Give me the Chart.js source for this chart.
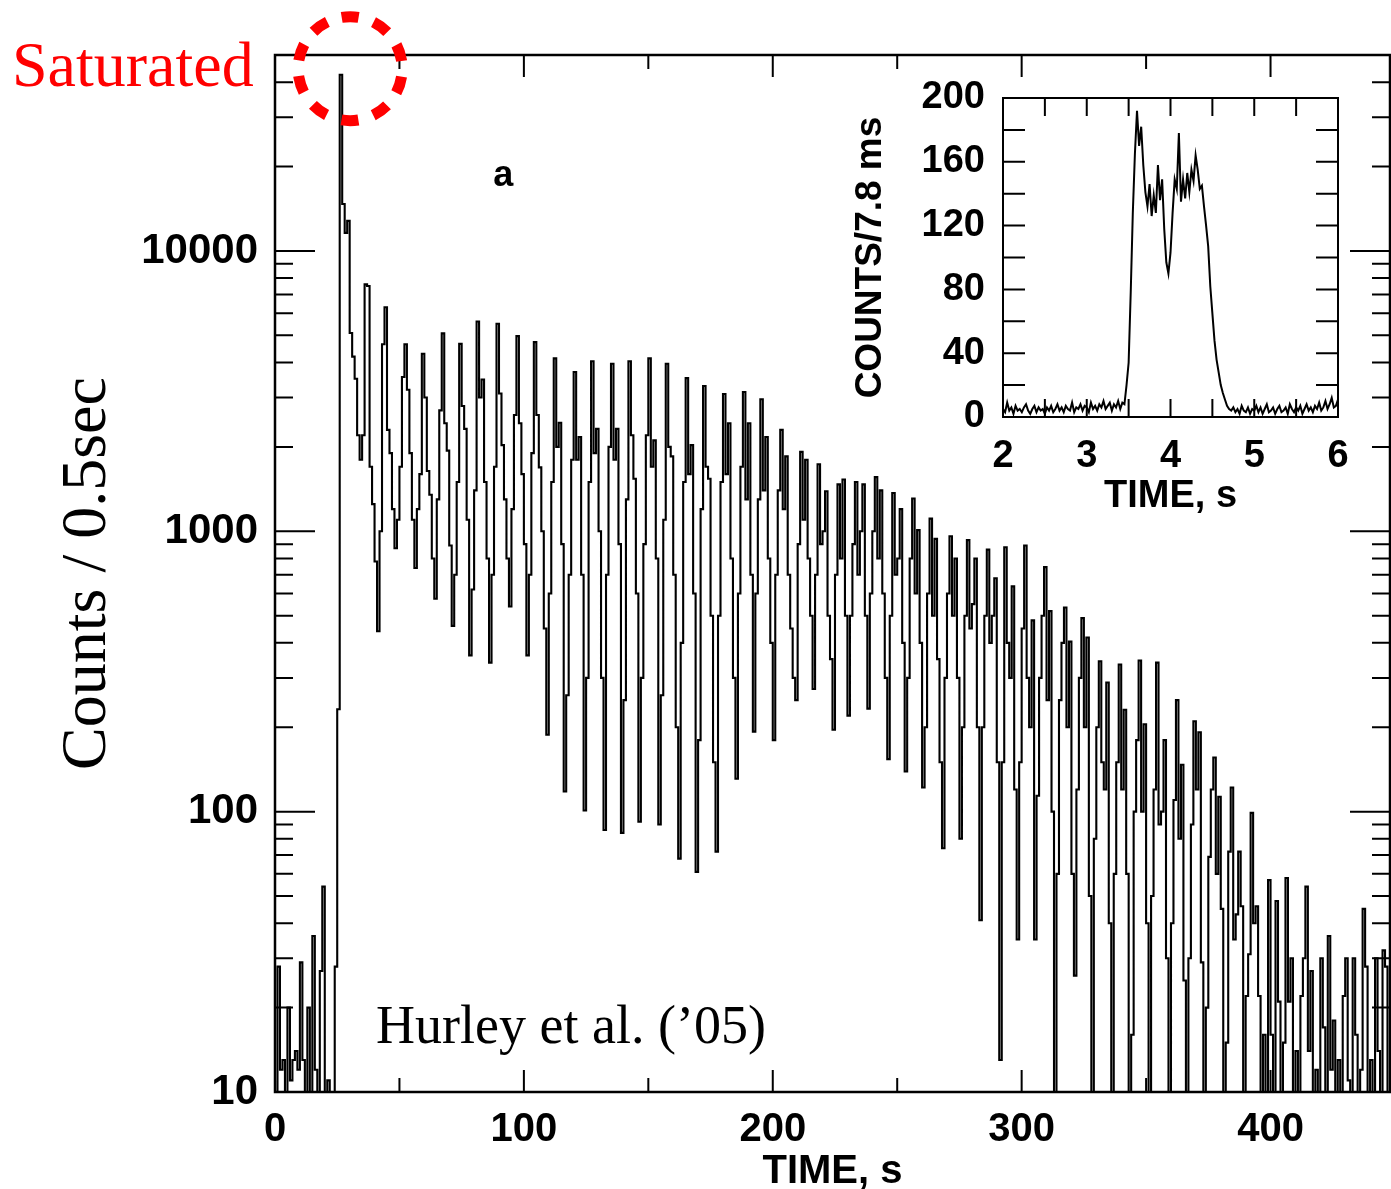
<!DOCTYPE html>
<html>
<head>
<meta charset="utf-8">
<script src="https://cdn.jsdelivr.net/npm/chart.js@4.4.1/dist/chart.umd.min.js"></script>
<style>
html,body{margin:0;padding:0;background:#fff;}
#wrap{position:relative;width:1391px;height:1189px;overflow:hidden;background:#fff;}
#main{position:absolute;left:0;top:0;}
#inset{position:absolute;left:840px;top:80px;}
</style>
</head>
<body>
<div id="wrap">
<canvas id="main" width="1391" height="1189"></canvas>
<canvas id="inset" width="510" height="445"></canvas>
</div>
<script>
// ---------- main light curve (counts per bin, bins of 1 s starting at t = 0) ----------
const mainBinStart = 0;
const mainBinWidth = 1.0;
const mainCounts = [
  11, 8, 28, 12, 13, 8, 20, 11, 13, 14,
  12, 29, 13, 8, 20, 10, 36, 12, 8, 27,
  54, 8, 11, 7, 10, 28, 232, 42500, 14700, 11600,
  12800, 5100, 4200, 3500, 2200, 1800, 2200, 7600, 7500, 1700,
  1250, 780, 440, 1000, 4650, 6300, 2300, 1900, 1200, 870,
  1100, 1700, 3550, 4650, 3200, 1900, 1100, 740, 1200, 1600,
  4300, 3000, 1640, 1350, 800, 575, 1300, 2700, 5080, 2430,
  1940, 890, 460, 700, 1500, 4660, 2800, 2320, 1100, 361,
  620, 1400, 5600, 3000, 3480, 1500, 800, 340, 700, 1700,
  5500, 3100, 2030, 1300, 800, 539, 1200, 2600, 4970, 2430,
  1600, 900, 361, 700, 1900, 4730, 2600, 1690, 1000, 450,
  188, 600, 1500, 4140, 2000, 2440, 900, 118, 260, 700,
  1800, 3700, 1800, 2170, 700, 101, 300, 1500, 4040, 1900,
  2320, 1000, 300, 86, 700, 2000, 3960, 1800, 2320, 900,
  84, 250, 1300, 4040, 2200, 1540, 600, 92, 300, 900,
  2200, 4140, 1700, 2110, 800, 90, 260, 1100, 3960, 2000,
  1850, 700, 200, 68, 400, 1500, 3520, 1600, 2030, 600,
  61, 180, 1200, 3300, 1700, 1540, 500, 150, 72, 500,
  1500, 3090, 1600, 2430, 800, 300, 131, 600, 1700, 3140,
  1300, 2430, 700, 193, 600, 1300, 2960, 1400, 2170, 800,
  400, 180, 700, 1400, 2300, 1200, 1850, 700, 450, 300,
  250, 900, 1920, 1100, 1800, 800, 500, 274, 700, 1735,
  900, 1000, 1390, 500, 350, 196, 700, 1470, 800, 1530,
  500, 220, 500, 900, 1500, 700, 1000, 1470, 500, 233,
  600, 1000, 1560, 800, 1400, 600, 300, 154, 500, 1370,
  700, 800, 1200, 400, 139, 300, 800, 1310, 600, 1010,
  400, 122, 200, 600, 1110, 500, 940, 350, 150, 74,
  300, 600, 960, 500, 800, 300, 80, 200, 500, 930,
  450, 550, 800, 200, 41, 200, 500, 860, 400, 500,
  680, 150, 13, 150, 877, 400, 300, 636, 120, 35,
  150, 450, 890, 300, 200, 481, 35, 114, 300, 500,
  745, 250, 519, 100, 5, 60, 250, 400, 535, 200,
  404, 60, 26, 120, 300, 490, 200, 418, 50, 5,
  80, 200, 344, 150, 120, 289, 40, 5, 60, 150,
  335, 120, 231, 60, 5, 16, 100, 180, 346, 100,
  205, 40, 5, 50, 120, 340, 90, 100, 180, 30,
  5, 40, 110, 250, 80, 147, 25, 5, 30, 90,
  210, 120, 192, 29, 5, 20, 69, 120, 156, 60,
  113, 45, 5, 15, 72, 122, 35, 43, 72, 46,
  5, 22, 31, 99, 40, 46, 22, 5, 16, 5,
  57, 16, 5, 48, 21, 5, 15, 58, 21, 30,
  5, 14, 5, 22, 30, 54, 14, 27, 5, 12,
  5, 30, 17, 5, 36, 12, 18, 5, 13, 5,
  22, 30, 11, 5, 30, 16, 5, 12, 45, 28,
  5, 13, 5, 30, 14, 5, 32, 28, 5, 45
];

// main axis ticks
const mainXTicks = [0, 50, 100, 150, 200, 250, 300, 350, 400];
const mainXLabels = [0, 100, 200, 300, 400];
const mainYTicks = [10,20,30,40,50,60,70,80,90,100,200,300,400,500,600,700,800,900,
                    1000,2000,3000,4000,5000,6000,7000,8000,9000,10000,20000,30000,40000,50000];
const mainYLabels = [10, 100, 1000, 10000];

// ---------- inset: counts per 7.8 ms (sampled every 0.025 s from t = 2 s) ----------
const insetStart = 2.0;
const insetStep = 0.025;
const insetCounts = [
  5,3,9,4,6,2,7,4,5,3,
  6,8,4,2,5,7,3,6,4,5,
  2,6,4,7,3,5,8,4,6,3,
  7,5,4,9,3,6,5,8,4,7,
  6,3,9,5,7,4,8,6,10,5,
  7,9,4,8,6,10,5,9,
  8,20,34,78,128,165,192,170,182,158,
  141,132,146,126,139,128,158,136,149,118,
  97,90,103,128,149,143,178,135,149,137,
  153,141,155,148,164,155,143,145,132,120,
  107,82,65,48,36,28,20,15,11,7,
  5,
  4,6,3,5,2,7,4,3,6,2,
  5,4,7,3,6,2,5,8,3,4,
  6,2,5,7,3,4,6,2,8,5,
  3,6,4,7,2,5,8,4,6,3,
  7,5,9,4,6,10,5,8,12,6,
  7,11
];
const insetXTicks = [2, 2.5, 3, 3.5, 4, 4.5, 5, 5.5, 6];
const insetXLabels = [2, 3, 4, 5, 6];
const insetYTicks = [0,20,40,60,80,100,120,140,160,180,200];
const insetYLabels = [0, 40, 80, 120, 160, 200];

// ---------- helpers ----------
const SANS = "'Liberation Sans', Arial, sans-serif";
const SERIF = "'Liberation Serif', 'Times New Roman', serif";

function fitX(h) {
  return s => { s.height = h; s.paddingLeft = 0; s.paddingRight = 0; };
}
function fitY(w) {
  return s => { s.width = w; s.paddingTop = 0; s.paddingBottom = 0; };
}

const frameTicks = {
  id: 'frameTicks',
  afterDatasetsDraw(chart, args, o) {
    const {ctx, chartArea: a, scales: {x, y}} = chart;
    ctx.save();
    ctx.strokeStyle = '#000';
    ctx.lineCap = 'butt';
    ctx.lineWidth = o.tickWidth;
    ctx.beginPath();
    x.ticks.forEach(t => {
      const px = x.getPixelForValue(t.value);
      const len = o.xMajor.includes(t.value) ? o.xMajorLen : o.xMinorLen;
      ctx.moveTo(px, a.bottom); ctx.lineTo(px, a.bottom - len);
      ctx.moveTo(px, a.top); ctx.lineTo(px, a.top + len);
    });
    y.ticks.forEach(t => {
      const py = y.getPixelForValue(t.value);
      const len = o.yMajor.includes(t.value) ? o.yMajorLen : o.yMinorLen;
      ctx.moveTo(a.left, py); ctx.lineTo(a.left + len, py);
      ctx.moveTo(a.right, py); ctx.lineTo(a.right - len, py);
    });
    ctx.stroke();
    ctx.lineWidth = o.frameWidth;
    ctx.strokeRect(a.left, a.top, a.right - a.left, a.bottom - a.top);
    ctx.restore();
  }
};

const mainNotes = {
  id: 'mainNotes',
  afterDraw(chart) {
    const {ctx, scales: {x, y}} = chart;
    ctx.save();
    // red dashed circle around the saturated peak
    const cx = x.getPixelForValue(30.2), cy = y.getPixelForValue(44700);
    const r = 52;
    ctx.strokeStyle = '#ff0000';
    ctx.lineWidth = 11;
    ctx.setLineDash([17, 2 * Math.PI * r / 10 - 17]);
    ctx.beginPath();
    ctx.arc(cx, cy, r, -Math.PI / 2 - 8.5 / r, -Math.PI / 2 - 8.5 / r + 2 * Math.PI);
    ctx.stroke();
    ctx.setLineDash([]);
    // "Saturated"
    ctx.fillStyle = '#ff0000';
    ctx.font = `64px ${SERIF}`;
    ctx.textAlign = 'left';
    ctx.textBaseline = 'alphabetic';
    ctx.fillText('Saturated', 12, 86);
    // reference
    ctx.fillStyle = '#000';
    ctx.font = `54px ${SERIF}`;
    ctx.fillText('Hurley et al. (\u201905)', x.getPixelForValue(40.6), y.getPixelForValue(15));
    // panel letter
    ctx.font = `bold 36px ${SANS}`;
    ctx.textAlign = 'center';
    ctx.textBaseline = 'middle';
    ctx.fillText('a', x.getPixelForValue(91.7), y.getPixelForValue(18500));
    ctx.restore();
  }
};

// ---------- main chart ----------
new Chart(document.getElementById('main'), {
  type: 'line',
  data: {
    datasets: [{
      data: mainCounts.map((c, i) => ({x: mainBinStart + i * mainBinWidth, y: c})),
      borderColor: '#000',
      borderWidth: 2.1,
      pointRadius: 0,
      stepped: 'after',
      fill: false,
      borderJoinStyle: 'miter'
    }]
  },
  options: {
    responsive: false,
    animation: false,
    devicePixelRatio: 1,
    layout: {padding: {top: 55, right: 1, left: 0, bottom: 0}},
    plugins: {
      legend: {display: false},
      tooltip: {enabled: false},
      frameTicks: {
        tickWidth: 2, frameWidth: 2.5,
        xMajor: mainXLabels, xMajorLen: 22, xMinorLen: 14,
        yMajor: mainYLabels, yMajorLen: 40, yMinorLen: 18
      }
    },
    scales: {
      x: {
        type: 'linear', min: 0, max: 448,
        afterFit: fitX(97),
        afterBuildTicks(s) { s.ticks = mainXTicks.map(v => ({value: v})); },
        grid: {display: false, drawTicks: false},
        border: {display: false},
        ticks: {
          autoSkip: false, maxRotation: 0, padding: 14, color: '#000',
          font: {family: SANS, weight: 'bold', size: 40},
          callback: v => mainXLabels.includes(v) ? String(v) : ''
        },
        title: {
          display: true, text: 'TIME, s', color: '#000',
          font: {family: SANS, weight: 'bold', size: 40, lineHeight: 0.85},
          padding: {top: 0, bottom: 0}
        }
      },
      y: {
        type: 'logarithmic', min: 10, max: 50000,
        afterFit: fitY(275),
        afterBuildTicks(s) { s.ticks = mainYTicks.map(v => ({value: v})); },
        grid: {display: false, drawTicks: false},
        border: {display: false},
        ticks: {
          autoSkip: false, padding: 17, color: '#000',
          font: {family: SANS, weight: 'bold', size: 42},
          callback: v => mainYLabels.includes(v) ? String(v) : ''
        },
        title: {
          display: true, text: 'Counts / 0.5sec', color: '#000',
          font: {family: SERIF, size: 64, weight: 'normal', lineHeight: 1},
          padding: {top: 56, bottom: 0}
        }
      }
    }
  },
  plugins: [frameTicks, mainNotes]
});

// ---------- inset chart ----------
new Chart(document.getElementById('inset'), {
  type: 'line',
  data: {
    datasets: [{
      data: insetCounts.map((c, i) => ({x: insetStart + i * insetStep, y: c})),
      borderColor: '#000',
      borderWidth: 2,
      pointRadius: 0,
      fill: false,
      tension: 0
    }]
  },
  options: {
    responsive: false,
    animation: false,
    devicePixelRatio: 1,
    layout: {padding: {top: 18, right: 12, left: 0, bottom: 0}},
    plugins: {
      legend: {display: false},
      tooltip: {enabled: false},
      frameTicks: {
        tickWidth: 2, frameWidth: 2,
        xMajor: insetXLabels, xMajorLen: 18, xMinorLen: 18,
        yMajor: insetYLabels, yMajorLen: 22, yMinorLen: 22
      }
    },
    scales: {
      x: {
        type: 'linear', min: 2, max: 6,
        afterFit: fitX(108),
        afterBuildTicks(s) { s.ticks = insetXTicks.map(v => ({value: v})); },
        grid: {display: false, drawTicks: false},
        border: {display: false},
        ticks: {
          autoSkip: false, maxRotation: 0, padding: 17, color: '#000',
          font: {family: SANS, weight: 'bold', size: 38},
          callback: v => insetXLabels.includes(v) ? String(v) : ''
        },
        title: {
          display: true, text: 'TIME, s', color: '#000',
          font: {family: SANS, weight: 'bold', size: 38, lineHeight: 1},
          padding: {top: 0, bottom: 9}
        }
      },
      y: {
        type: 'linear', min: 0, max: 200,
        afterFit: fitY(163),
        afterBuildTicks(s) { s.ticks = insetYTicks.map(v => ({value: v})); },
        grid: {display: false, drawTicks: false},
        border: {display: false},
        ticks: {
          autoSkip: false, padding: 18, color: '#000',
          font: {family: SANS, weight: 'bold', size: 38},
          callback: v => insetYLabels.includes(v) ? String(v) : ''
        },
        title: {
          display: true, text: 'COUNTS/7.8 ms', color: '#000',
          font: {family: SANS, weight: 'bold', size: 37, lineHeight: 1},
          padding: {top: 12, bottom: 0}
        }
      }
    }
  },
  plugins: [frameTicks]
});
</script>
</body>
</html>
